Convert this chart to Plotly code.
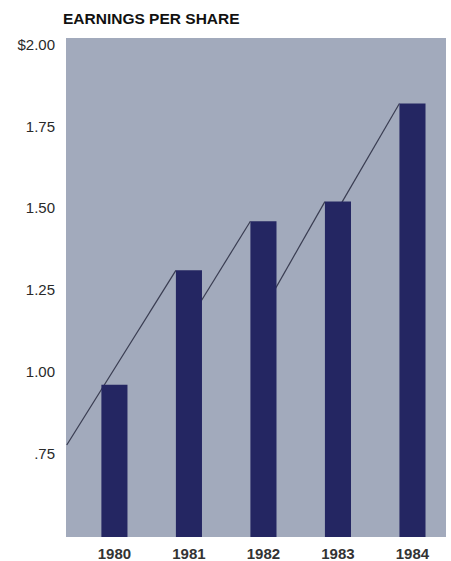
import plotly.graph_objects as go

# Earnings per share, 1980-1984
years = [1980, 1981, 1982, 1983, 1984]
eps = [0.96, 1.31, 1.46, 1.52, 1.82]

# Rising trend strokes; each starts inside a bar and ends at the next bar's top-left corner.
# None breaks the line between strokes.
trend_x = [1979.36, 1980.825, None, 1981.0, 1981.825, None, 1982.0, 1982.825, None, 1983.0, 1983.825]
trend_y = [0.776, 1.31, None, 1.156, 1.46, None, 1.19, 1.52, None, 1.497, 1.82]

tick_vals = [0.75, 1.00, 1.25, 1.50, 1.75, 2.00]
tick_text = [".75", "1.00", "1.25", "1.50", "1.75", "$2.00"]

BG = "#a2aabc"
BAR = "#242662"
TEXT = "#2a2a2a"

fig = go.Figure()

fig.add_trace(go.Scatter(
    x=trend_x, y=trend_y, mode="lines",
    line=dict(color="#3a3d52", width=1.2),
    connectgaps=False, hoverinfo="skip", zorder=0,
))

fig.add_trace(go.Bar(
    x=years, y=eps, width=0.35,
    marker=dict(color=BAR, line=dict(width=0)),
    zorder=1,
))

fig.update_layout(
    width=451, height=561,
    margin=dict(l=66, r=5, t=38, b=24),
    paper_bgcolor="white",
    plot_bgcolor=BG,
    showlegend=False,
    font=dict(family="Liberation Sans, Arial, sans-serif", color=TEXT),
    annotations=[dict(
        text="<b>EARNINGS PER SHARE</b>",
        xref="paper", yref="paper", x=-0.012, y=1.0, yshift=20,
        xanchor="left", yanchor="middle", showarrow=False,
        font=dict(size=15.5, color="#111"),
    )],
)

fig.update_xaxes(
    range=[1979.35, 1984.45],
    tickvals=years,
    ticktext=[f"<b>{y}</b>" for y in years],
    tickfont=dict(size=15, color="#333"),
    showgrid=False, zeroline=False, showline=False,
    ticks="", ticklabelstandoff=6, automargin=False,
)

fig.update_yaxes(
    range=[0.495, 2.02],
    tickvals=tick_vals,
    ticktext=tick_text,
    tickfont=dict(size=15, color=TEXT),
    showgrid=False, zeroline=False, showline=False,
    ticks="", ticklabelstandoff=10, automargin=False,
)

fig.write_html("out.html")
